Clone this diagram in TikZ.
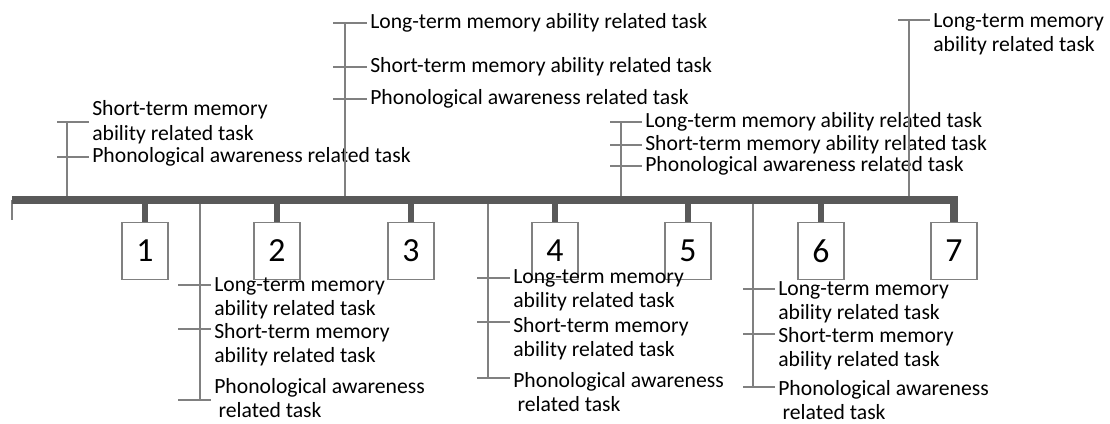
\documentclass[tikz,border=0pt]{standalone}
\usepackage{fontspec}
\setmainfont{Carlito}
\usepackage{tikz}

\begin{document}
\begin{tikzpicture}[x=0.025cm, y=-0.025cm,
bar/.style={draw=black!65, line width=5pt, line join=miter},
stem/.style={draw=black!65, line width=4.3pt},
leg/.style={draw=black!50, line width=1pt},
num/.style={rectangle, draw=black!50, fill=white, line width=0.9pt, minimum width=1.15cm, minimum height=1.425cm, font=\fontsize{24}{28}\selectfont},
task/.style={font=\fontsize{15.4}{17.4}\selectfont, align=left, inner sep=0pt, anchor=west},
topline/.style={task, anchor=north west, yshift=0.2cm}
]
\useasboundingbox (0,0) rectangle (1110,423);
%Nodes
\node[num] (n1) at (145,251) {1};
\node[num] (n2) at (277,251) {2};
\node[num] (n3) at (411,251) {3};
\node[num] (n4) at (555,251) {4};
\node[num] (n5) at (688,251) {5};
\node[num] (n6) at (821,251) {6};
\node[num] (n7) at (954,251) {7};
%Branch coordinates
\coordinate (A) at (67,200);  \coordinate (a1) at (57,122);  \coordinate (a2) at (57,157);
\coordinate (B) at (345,200); \coordinate (b1) at (333,23);  \coordinate (b2) at (333,67);  \coordinate (b3) at (333,99);
\coordinate (C) at (621,200); \coordinate (c1) at (610,122); \coordinate (c2) at (610,145); \coordinate (c3) at (610,166);
\coordinate (D) at (909,200); \coordinate (d1) at (898,20);
\coordinate (E) at (200,200); \coordinate (e1) at (178,285); \coordinate (e2) at (178,329); \coordinate (e3) at (178,400);
\coordinate (F) at (488,200); \coordinate (f1) at (477,278); \coordinate (f2) at (477,322); \coordinate (f3) at (477,378);
\coordinate (G) at (753,200); \coordinate (g1) at (743,289); \coordinate (g2) at (743,334); \coordinate (g3) at (743,387);
%Texts
\node[task]    (tA1) at (92,122)  {Short-term memory\\ability related task};
\node[task]    (tA2) at (92,157)  {Phonological awareness related task};
\node[task]    (tB1) at (370,23)  {Long-term memory ability related task};
\node[task]    (tB2) at (370,67)  {Short-term memory ability related task};
\node[task]    (tB3) at (370,99)  {Phonological awareness related task};
\node[task]    (tC1) at (645,122) {Long-term memory ability related task};
\node[task]    (tC2) at (645,145) {Short-term memory ability related task};
\node[task]    (tC3) at (645,166) {Phonological awareness related task};
\node[topline] (tD1) at (933,21)  {Long-term memory\\ability related task};
\node[topline] (tE1) at (214,285) {Long-term memory\\ability related task};
\node[topline] (tE2) at (214,331) {Short-term memory\\ability related task};
\node[task]    (tE3) at (214,398) {Phonological awareness\\\hspace*{0.2em}related task};
\node[topline] (tF1) at (513,277) {Long-term memory\\ability related task};
\node[topline] (tF2) at (513,325) {Short-term memory\\ability related task};
\node[topline] (tF3) at (513,380) {Phonological awareness\\\hspace*{0.2em}related task};
\node[topline] (tG1) at (778,289) {Long-term memory\\ability related task};
\node[topline] (tG2) at (778,335) {Short-term memory\\ability related task};
\node[topline] (tG3) at (778,388) {Phonological awareness\\\hspace*{0.2em}related task};
%Lines
\draw[leg] (12,200) -- (12,220);
\draw[leg] (A) -- (A |- a1);
\draw[leg] (B) -- (B |- b1);
\draw[leg] (C) -- (C |- c1);
\draw[leg] (D) -- (D |- d1);
\draw[leg] (E) -- (E |- e3);
\draw[leg] (F) -- (F |- f3);
\draw[leg] (G) -- (G |- g3);
\foreach \t/\n in {a1/tA1, a2/tA2, b1/tB1, b2/tB2, b3/tB3, c1/tC1, c2/tC2, c3/tC3, d1/tD1,
                   e1/tE1, e2/tE2, e3/tE3, f1/tF1, f2/tF2, f3/tF3, g1/tG1, g2/tG2, g3/tG3}
  \draw[leg] (\t) -- ([xshift=-2pt]\t -| \n.west);
\draw[bar] (12,200) -- (n7.north |- 0,200) -- (n7.north);
\foreach \n in {n1,n2,n3,n4,n5,n6}
  \draw[stem] (\n.north) -- (\n.north |- 0,200);
\end{tikzpicture}
\end{document}
